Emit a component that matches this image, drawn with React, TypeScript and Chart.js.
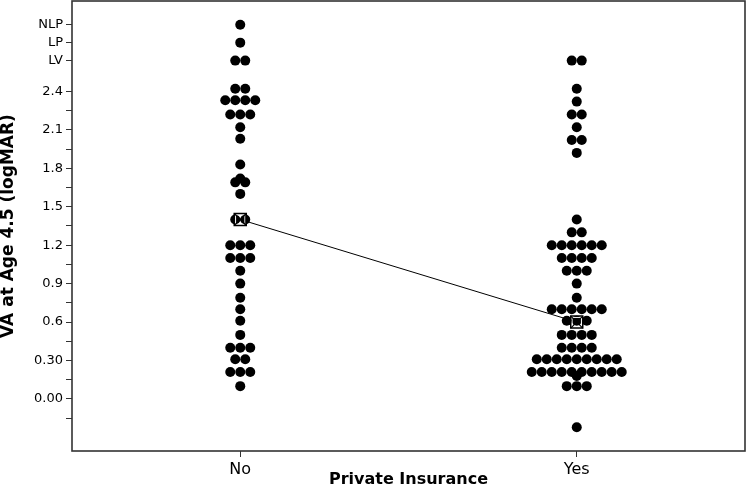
import React, { useEffect, useRef } from 'react';
import { Chart, registerables } from 'chart.js';

Chart.register(...registerables);

const categories = ['No', 'Yes'];

// VA at age 4.5 (logMAR); LV = 2.64, LP = 2.78, NLP = 2.92 on this axis
const noValues = [
  2.92, 2.78, 2.64, 2.64,
  2.42, 2.42,
  2.33, 2.33, 2.33, 2.33,
  2.22, 2.22, 2.22,
  2.12, 2.03, 1.83, 1.72, 1.69, 1.69, 1.6,
  1.4, 1.4,
  1.2, 1.2, 1.2,
  1.1, 1.1, 1.1,
  1.0, 0.9, 0.79, 0.7, 0.61, 0.5,
  0.4, 0.4, 0.4,
  0.31, 0.31,
  0.21, 0.21, 0.21,
  0.1,
];

const yesValues = [
  2.64, 2.64,
  2.42, 2.32,
  2.22, 2.22,
  2.12,
  2.02, 2.02,
  1.92,
  1.4,
  1.3, 1.3,
  1.2, 1.2, 1.2, 1.2, 1.2, 1.2,
  1.1, 1.1, 1.1, 1.1,
  1.0, 1.0, 1.0,
  0.9, 0.79,
  0.7, 0.7, 0.7, 0.7, 0.7, 0.7,
  0.61, 0.61, 0.61,
  0.5, 0.5, 0.5, 0.5,
  0.4, 0.4, 0.4, 0.4,
  0.31, 0.31, 0.31, 0.31, 0.31, 0.31, 0.31, 0.31, 0.31,
  0.21, 0.21, 0.21, 0.21, 0.21, 0.21, 0.21, 0.21, 0.21, 0.21,
  0.18,
  0.1, 0.1, 0.1,
  -0.22,
];

const meanValues = [1.4, 0.6];

const yTickValues = [-0.15, 0, 0.15, 0.3, 0.45, 0.6, 0.75, 0.9, 1.05, 1.2, 1.35, 1.5, 1.65, 1.8, 1.95, 2.1, 2.25, 2.4, 2.64, 2.78, 2.92];
const yTickLabels = ['', '0.00', '', '0.30', '', '0.6', '', '0.9', '', '1.2', '', '1.5', '', '1.8', '', '2.1', '', '2.4', 'LV', 'LP', 'NLP'];

const Y_MIN = -0.406;
const Y_MAX = 3.105;
const DOT_STEP = 0.0297; // horizontal spacing between stacked dots, in category units

function stackDots(values: number[], center: number) {
  const counts = new Map<number, number>();
  values.forEach((v) => counts.set(v, (counts.get(v) || 0) + 1));
  const pts: { x: number; y: number }[] = [];
  counts.forEach((n, v) => {
    for (let i = 0; i < n; i++) {
      pts.push({ x: center + (i - (n - 1) / 2) * DOT_STEP, y: v });
    }
  });
  return pts;
}

const framePlugin = {
  id: 'frame',
  beforeDatasetsDraw(chart: any) {
    const { ctx, chartArea } = chart;
    ctx.save();
    ctx.strokeStyle = '#333333';
    ctx.lineWidth = 1.6;
    ctx.strokeRect(chartArea.left, chartArea.top, chartArea.right - chartArea.left, chartArea.bottom - chartArea.top);
    ctx.restore();
  },
};

function zeroPadding(scale: any) {
  scale.paddingTop = 0;
  scale.paddingBottom = 0;
  scale.paddingLeft = 0;
  scale.paddingRight = 0;
}

export default function App() {
  const canvasRef = useRef<HTMLCanvasElement | null>(null);

  useEffect(() => {
    document.body.style.margin = '0';
    const canvas = canvasRef.current;
    if (!canvas) return;

    const groups = [noValues, yesValues];
    const dotData = groups.flatMap((vals, i) => stackDots(vals, i));
    const meanData = meanValues.map((v, i) => ({ x: i, y: v }));

    const chart = new Chart(canvas, {
      type: 'scatter',
      data: {
        datasets: [
          {
            label: 'mean marker',
            data: meanData,
            pointStyle: 'rect',
            pointRadius: 8.5,
            backgroundColor: 'rgba(0,0,0,0)',
            borderColor: '#000',
            pointBorderWidth: 1.5,
            order: 1,
          },
          {
            label: 'mean cross',
            data: meanData,
            pointStyle: 'crossRot',
            pointRadius: 8.5,
            borderColor: '#000',
            pointBorderWidth: 1.2,
            order: 2,
          },
          {
            label: 'mean inner',
            data: meanData,
            pointStyle: 'rect',
            pointRadius: 6.6,
            backgroundColor: 'rgba(0,0,0,0)',
            borderColor: '#fff',
            pointBorderWidth: 1,
            order: 3,
          },
          {
            label: 'mean line',
            data: meanData,
            showLine: true,
            borderColor: '#000',
            borderWidth: 1,
            pointRadius: 0,
            order: 5,
          },
          {
            label: 'VA',
            data: dotData,
            pointRadius: 5,
            pointHoverRadius: 5,
            backgroundColor: '#000',
            borderColor: '#000',
            pointBorderWidth: 0,
            order: 10,
          },
        ],
      },
      options: {
        animation: false,
        responsive: false,
        events: [],
        layout: { autoPadding: false, padding: { top: 1, right: 2, left: 0, bottom: 0 } },
        plugins: {
          legend: { display: false },
          tooltip: { enabled: false },
        },
        scales: {
          x: {
            type: 'linear',
            min: -0.5,
            max: 1.5,
            afterBuildTicks: (scale: any) => {
              scale.ticks = categories.map((_, i) => ({ value: i }));
            },
            afterFit: (scale: any) => {
              scale.height = 37;
              zeroPadding(scale);
            },
            ticks: {
              autoSkip: false,
              maxRotation: 0,
              padding: 3,
              color: '#000',
              font: { family: 'DejaVu Sans', size: 16, lineHeight: 1.2 },
              callback: (value: any) => categories[Math.round(Number(value))] ?? '',
            },
            grid: {
              drawOnChartArea: false,
              drawTicks: true,
              tickLength: 6,
              tickColor: '#333',
              tickWidth: 1,
            },
            border: { display: false },
            title: {
              display: true,
              text: 'Private Insurance',
              color: '#000',
              font: { family: 'DejaVu Sans', size: 16, weight: 'bold', lineHeight: 1 },
              padding: { top: 0, bottom: 0 },
            },
          },
          y: {
            type: 'linear',
            min: Y_MIN,
            max: Y_MAX,
            afterBuildTicks: (scale: any) => {
              scale.ticks = yTickValues.map((v) => ({ value: v }));
            },
            afterFit: (scale: any) => {
              scale.width = 72;
              zeroPadding(scale);
            },
            ticks: {
              autoSkip: false,
              padding: 3,
              color: '#000',
              font: { family: 'DejaVu Sans', size: 13 },
              callback: (_v: any, index: number) => yTickLabels[index] ?? '',
            },
            grid: {
              drawOnChartArea: false,
              drawTicks: true,
              tickLength: 6,
              tickColor: '#333',
              tickWidth: 1,
            },
            border: { display: false },
            title: {
              display: true,
              text: 'VA at Age 4.5 (logMAR)',
              color: '#000',
              font: { family: 'DejaVu Sans', size: 17, weight: 'bold', lineHeight: 1 },
              padding: { top: 0, bottom: 0 },
            },
          },
        },
      },
      plugins: [framePlugin],
    });

    return () => chart.destroy();
  }, []);

  return (
    <div style={{ width: 747, height: 488 }}>
      <canvas ref={canvasRef} width={747} height={488} style={{ display: 'block' }} />
    </div>
  );
}
